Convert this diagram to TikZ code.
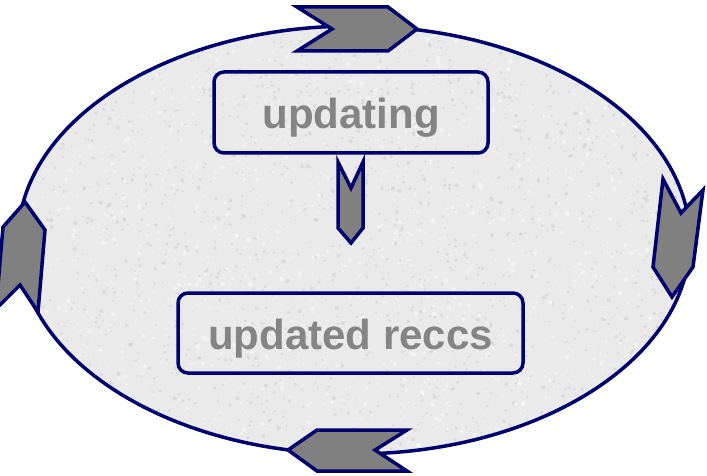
\documentclass[tikz,border=0pt]{standalone}
\usepackage{fontspec}
\setmainfont{Liberation Sans}
\definecolor{navy}{RGB}{0,0,110}
\definecolor{chev}{RGB}{128,128,128}
\definecolor{txtgray}{RGB}{132,132,132}
\definecolor{bgfill}{RGB}{234,234,234}
\definecolor{speck}{RGB}{200,200,200}
\definecolor{speckw}{RGB}{250,250,250}
\tikzset{
  chevron/.style={fill=chev, draw=navy, line width=3.5pt, line join=miter},
  textbox/.style={draw=navy, line width=3.5pt, rounded corners=10pt,
    text=txtgray, font=\bfseries\fontsize{42}{48}\selectfont, inner sep=0pt,
    text height=32pt, text depth=0pt},
}
\begin{document}
\begin{tikzpicture}[x=1pt,y=-1pt]
\useasboundingbox (0,0) rectangle (707,476);
% ellipse with texture
\fill[bgfill] (354,240) ellipse [x radius=336, y radius=214];
\begin{scope}
  \clip (354,240) ellipse [x radius=336, y radius=214];
  \pgfmathsetseed{11}
  \foreach \i in {1,...,2200} {
    \pgfmathsetmacro{\px}{rnd*707}
    \pgfmathsetmacro{\py}{rnd*476}
    \pgfmathsetmacro{\pr}{0.7+rnd*1.4}
    \fill[speck, opacity=0.45] (\px,\py) circle [radius=\pr];
  }
  \foreach \i in {1,...,1200} {
    \pgfmathsetmacro{\px}{rnd*707}
    \pgfmathsetmacro{\py}{rnd*476}
    \pgfmathsetmacro{\pr}{0.8+rnd*1.6}
    \fill[speckw, opacity=0.6] (\px,\py) circle [radius=\pr];
  }
\end{scope}
\draw[navy, line width=3.5pt] (354,240) ellipse [x radius=336, y radius=214];
% boxes
\node[textbox, minimum width=274pt, minimum height=81pt] (upd) at (351,112.5) {updating};
\node[textbox, minimum width=345pt, minimum height=80pt] (rec) at (350.5,333) {updated reccs};
% middle arrow
\draw[chevron] (338,162) -- (351,188) -- (363,162) -- (363,228) -- (351,243) -- (338,228) -- cycle;
% top chevron (right)
\draw[chevron] (297,7) -- (388,7) -- (417,29) -- (388,51) -- (297,51) -- (332,29) -- cycle;
% right chevron (down)
\draw[chevron] (663,179) -- (681,213) -- (703,190) -- (693,267) -- (672,297) -- (653,267) -- cycle;
% bottom chevron (left)
\draw[chevron] (288,450) -- (317,430) -- (407,430) -- (375,450) -- (407,471) -- (317,471) -- cycle;
% left chevron (up)
\draw[chevron] (25,202) -- (45,230) -- (38,312) -- (20,285) -- (-4,309) -- (3,227) -- cycle;
\end{tikzpicture}
\end{document}
